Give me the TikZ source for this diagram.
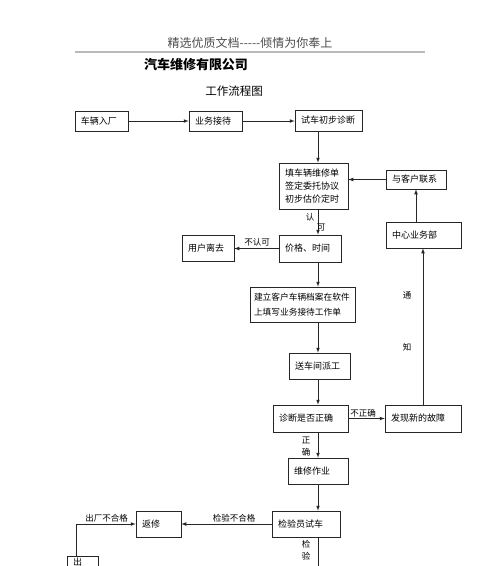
\documentclass[tikz,border=0pt]{standalone}
\usepackage{fontspec}
\setmainfont{Noto Sans CJK SC}
\usepackage{tikz}
\tikzset{
	stepbox/.style={
		draw=black!85,
		line width=0.7pt,
		rectangle,
		inner xsep=6pt,
		inner ysep=0pt,
		align=left,
		font=\fontsize{9}{14}\selectfont
	},
	flow/.style={
		draw=black!85,
		line width=0.7pt,
		->, >=latex
	},
	tag/.style={
		inner sep=0pt,
		font=\fontsize{8.5}{10}\selectfont
	}
}

\begin{document}
\begin{tikzpicture}[x=1pt, y=-1pt]
		\useasboundingbox (0,0) rectangle (500,566);
		\clip (0,0) rectangle (500,566);
		
		% page heading
		\node[text=black!70, font=\fontsize{12}{12}\selectfont] (header) at (250,43) {精选优质文档-{}-{}-{}-{}-倾情为你奉上};
		\draw[gray!55, line width=1.5pt] (75,52) -- (425,52);
		\node[font=\bfseries\fontsize{13}{13}\selectfont] (company) at (196,65) {汽车维修有限公司};
		\node[font=\fontsize{11.5}{12}\selectfont] (chart) at (234,91) {工作流程图};
		
		\coordinate (spine) at (318,0);
		
		% boxes
		\node[stepbox, text width=41pt, minimum height=20pt] (in) at (101.5,121) {车辆入厂};
		\node[stepbox, text width=41pt, minimum height=20pt] (recv) at (215.5,121) {业务接待};
		\node[stepbox, text width=55pt, minimum height=21pt] (test) at (328.5,120.5) {试车初步诊断};
		\node[stepbox, text width=57pt, minimum height=46pt, font=\fontsize{9}{13}\selectfont] (form) at (313.5,186) {填车辆维修单\\签定委托协议\\初步估价定时};
		\node[stepbox, text width=48pt, minimum height=19pt] (contact) at (416,179.5) {与客户联系};
		\node[stepbox, text width=63pt, minimum height=26pt] (center) at (423.5,235) {中心业务部};
		\node[stepbox, text width=50pt, minimum height=27pt] (price) at (310,248.5) {价格、时间};
		\node[stepbox, text width=40pt, minimum height=26pt] (leave) at (208,248) {用户离去};
		\node[stepbox, inner xsep=4pt, text width=97pt, minimum height=35pt, font=\fontsize{8.7}{15}\selectfont] (file) at (302.5,304.5) {建立客户车辆档案在软件\\上填写业务接待工作单};
		\node[stepbox, text width=49pt, minimum height=26pt] (dispatch) at (319.5,366) {送车间派工};
		\node[stepbox, text width=63pt, minimum height=27pt] (diag) at (310.5,418.5) {诊断是否正确};
		\node[stepbox, text width=64pt, minimum height=27pt] (fault) at (423,418.5) {发现新的故障};
		\node[stepbox, text width=48pt, minimum height=26pt] (repair) at (318,471) {维修作业};
		\node[stepbox, text width=56pt, minimum height=26pt] (check) at (306,524) {检验员试车};
		\node[stepbox, text width=33pt, minimum height=26pt] (rework) at (158.5,524) {返修};
		\node[stepbox, anchor=north, text width=19pt, inner ysep=2pt, text depth=40pt] (out) at (82.5,556) {出};
		
		\coordinate (exit) at (318,585);
		
		% main line
		\foreach \from/\to in {test/form, form/price, price/file, file/dispatch, dispatch/diag, diag/repair, repair/check} {
			\draw[flow] (\from.south -| spine) -- (\to.north -| spine);
		}
		\draw[flow] (check.south -| spine) -- (exit);
		
		% side connections
		\draw[flow] (in.east) -- (in.east -| recv.west);
		\draw[flow] (recv.east) -- (recv.east -| test.west);
		\draw[flow] (price.west) -- (price.west -| leave.east);
		\draw[flow] (diag.east) -- (diag.east -| fault.west);
		\draw[flow] (fault.north) -- (fault.north |- center.south);
		\draw[flow] (center.north -| contact.south) -- (contact.south);
		\draw[flow] (contact.west) -- (contact.west -| form.east);
		\draw[flow] (check.west) -- (check.west -| rework.east);
		\draw[flow] ([xshift=-6.5pt]out.north) |- (rework.west);
		
		% connector labels
		\begin{scope}[every node/.style={tag}]
		\node (ren) at (310,217) {认};
		\node (ke) at (321,228) {可};
		\node (refuse) at (257,242) {不认可};
		\node (wrong) at (363,413) {不正确};
		\node (tong) at (407,295) {通};
		\node (zhi) at (407,347) {知};
		\node (zheng) at (306,440) {正};
		\node (que) at (306,452) {确};
		\node (fail) at (234,518) {检验不合格};
		\node (outfail) at (106.5,518) {出厂不合格};
		\node (jian) at (306,544) {检};
		\node (yan) at (306,556) {验};
		\end{scope}
\end{tikzpicture}
\end{document}
